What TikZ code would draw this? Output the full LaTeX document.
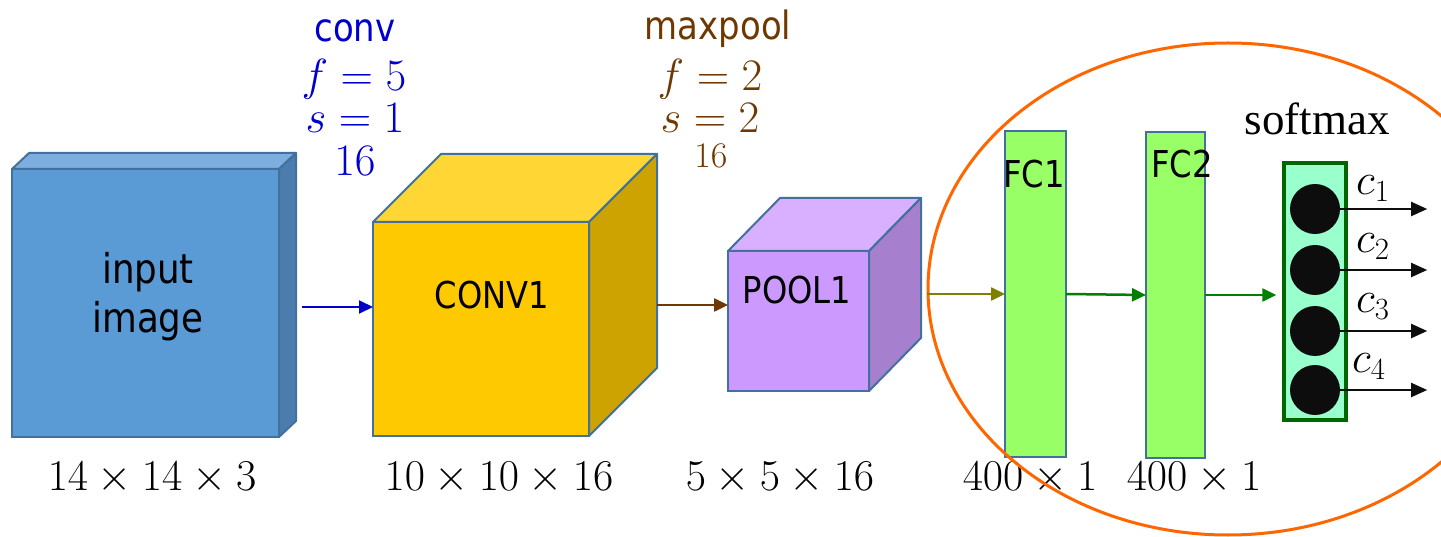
\RequirePackage{fix-cm}
\documentclass[tikz,border=0pt]{standalone}
\usepackage{amsmath}
\usepackage{fontspec}
\newfontfamily\layerfont[FakeStretch=0.87]{DejaVu Sans}
\newfontfamily\softfont{Liberation Serif}
\usetikzlibrary{arrows.meta, positioning, shapes.geometric}
\usepackage{xcolor}
\definecolor{mEdge}{HTML}{41719C}
\definecolor{mBlueF}{HTML}{5B9BD5}
\definecolor{mBlueT}{HTML}{7DAEDF}
\definecolor{mBlueS}{HTML}{4A7DAD}
\definecolor{mYelF}{HTML}{FFC900}
\definecolor{mYelT}{HTML}{FFD633}
\definecolor{mYelS}{HTML}{CCA300}
\definecolor{mPurF}{HTML}{CC99FF}
\definecolor{mPurT}{HTML}{D9B0FF}
\definecolor{mPurS}{HTML}{A67FCF}
\definecolor{mLime}{HTML}{99FF66}
\definecolor{mMint}{HTML}{99FFCC}
\definecolor{mDkGreen}{HTML}{006600}
\definecolor{mGreen}{HTML}{008000}
\definecolor{mOlive}{HTML}{808000}
\definecolor{mConv}{HTML}{0000CC}
\definecolor{mPool}{HTML}{6E3800}
\definecolor{mOrange}{HTML}{FF6600}
\definecolor{mInk}{HTML}{0D0D0D}
\newcommand{\fsz}[1]{\fontsize{#1}{#1}\selectfont}

\begin{document}
\begin{tikzpicture}[x=1pt, y=-1pt, >={Triangle[length=14pt, width=13pt]},
    face/.style={draw=mEdge, line width=2pt, inner sep=0pt, outer sep=0pt},
    fcbox/.style={face, fill=mLime},
    layertext/.style={font=\layerfont, inner sep=0pt, align=center},
    dim/.style={font=\fsz{44}, anchor=base, inner sep=0pt},
    hyper/.style={font=\fsz{45}, anchor=base, inner sep=0pt}]
  \useasboundingbox (0,0) rectangle (1441,537);

  % volumes: front face is the node, top and side faces hang off its corners
  \foreach \n/\cx/\cy/\w/\h/\dx/\dy/\cf/\ct/\cs in {
      img/145.5/303/267/268/17/16/mBlueF/mBlueT/mBlueS,
      conv/481/329/216/214/68/68/mYelF/mYelT/mYelS,
      pool/798.5/321/141/140/52/53/mPurF/mPurT/mPurS} {
    \node[face, fill=\cf, minimum width=\w pt, minimum height=\h pt] (\n) at (\cx,\cy) {};
    \filldraw[fill=\ct, draw=mEdge, line width=2pt, line join=round]
      (\n.north west) -- ++(\dx,-\dy) -- ([shift={(\dx,-\dy)}]\n.north east) -- (\n.north east) -- cycle;
    \filldraw[fill=\cs, draw=mEdge, line width=2pt, line join=round]
      (\n.north east) -- ++(\dx,-\dy) -- ([shift={(\dx,-\dy)}]\n.south east) -- (\n.south east) -- cycle;
  }
  \node[layertext, font=\layerfont\fontsize{41}{49}\selectfont] (imgtxt) at (148,297) {input\\image};
  \node[layertext, font=\layerfont\fsz{37}] (convtxt) at (492,295) {CONV1};
  \node[layertext, font=\layerfont\fsz{37}] (pooltxt) at (797,290) {POOL1};

  % hyperparameters
  \begin{scope}[mConv]
    \node[hyper, font=\layerfont\fsz{39}] (convname) at (355,42) {conv};
    \node[hyper] (convf) at (354,91) {$f=5$};
    \node[hyper] (convs) at (355,133) {$s=1$};
    \node[hyper] (convn) at (355,176) {$16$};
  \end{scope}
  \begin{scope}[mPool]
    \node[hyper, font=\layerfont\fsz{39}] (poolname) at (718,40) {maxpool};
    \node[hyper] (poolf) at (710,91) {$f=2$};
    \node[hyper] (pools) at (710,133) {$s=2$};
    \node[hyper, font=\fsz{36}] (pooln) at (711,168) {$16$};
  \end{scope}

  % fully connected part
  \node[fcbox, minimum width=61pt, minimum height=326pt] (fc1) at (1035.5,294) {};
  \node[fcbox, minimum width=59pt, minimum height=326pt] (fc2) at (1175.5,295) {};
  \node[layertext, font=\layerfont\fsz{37}, anchor=base] (fc1txt) at (1034,188) {FC1};
  \node[layertext, font=\layerfont\fsz{37}, anchor=base] (fc2txt) at (1182,178) {FC2};

  \node[draw=mDkGreen, fill=mMint, line width=3.5pt, minimum width=62pt, minimum height=257pt]
    (smax) at (1315,291.5) {};
  \node[font=\softfont\fsz{45}, anchor=base, inner sep=0pt] (smaxtxt) at (1317,135) {softmax};
  \foreach \i/\y/\lx/\ly in {1/209/1356/195, 2/270/1356/253, 3/331/1356/313, 4/390/1352/373} {
    \node[circle, fill=mInk, minimum size=50pt, inner sep=0pt] (s\i) at (1315,\y) {};
    \coordinate (out\i) at ([xshift=87pt]s\i.east);
    \draw[-{Triangle[length=16pt, width=14pt]}, mInk, line width=2pt] (s\i.east) -- (out\i);
    \node[font=\fsz{44}, anchor=base west, inner sep=0pt] (c\i) at (\lx,\ly) {$c_{\i}$};
  }

  % sizes
  \node[dim] (d1) at (152,490) {$14\times14\times3$};
  \node[dim] (d2) at (499,490) {$10\times10\times16$};
  \node[dim] (d3) at (780,490) {$5\times5\times16$};
  \node[dim] (d4) at (1030,490) {$400\times1$};
  \node[dim] (d5) at (1194,490) {$400\times1$};

  % ring round the classifier
  \node[ellipse, draw=mOrange, line width=3pt, inner sep=0pt,
        minimum width=600pt, minimum height=492pt] (head) at (1228,289) {};

  % connectors
  \coordinate (a1) at (302,307);
  \coordinate (a2) at (657,305);
  \draw[->, mConv, line width=2pt] (a1) -- (a1 -| conv.west);
  \draw[->, mPool, line width=2.5pt] (a2) -- (a2 -| pool.west);
  \draw[->, mOlive, line width=2.5pt] (head.west |- fc1.west) -- (fc1.west);
  \draw[->, mGreen, line width=2.5pt] (fc1.east) -- (fc2.west);
  \draw[->, mGreen, line width=2.5pt, shorten >=6pt] (fc2.east) -- (fc2.east -| smax.west);
\end{tikzpicture}
\end{document}
